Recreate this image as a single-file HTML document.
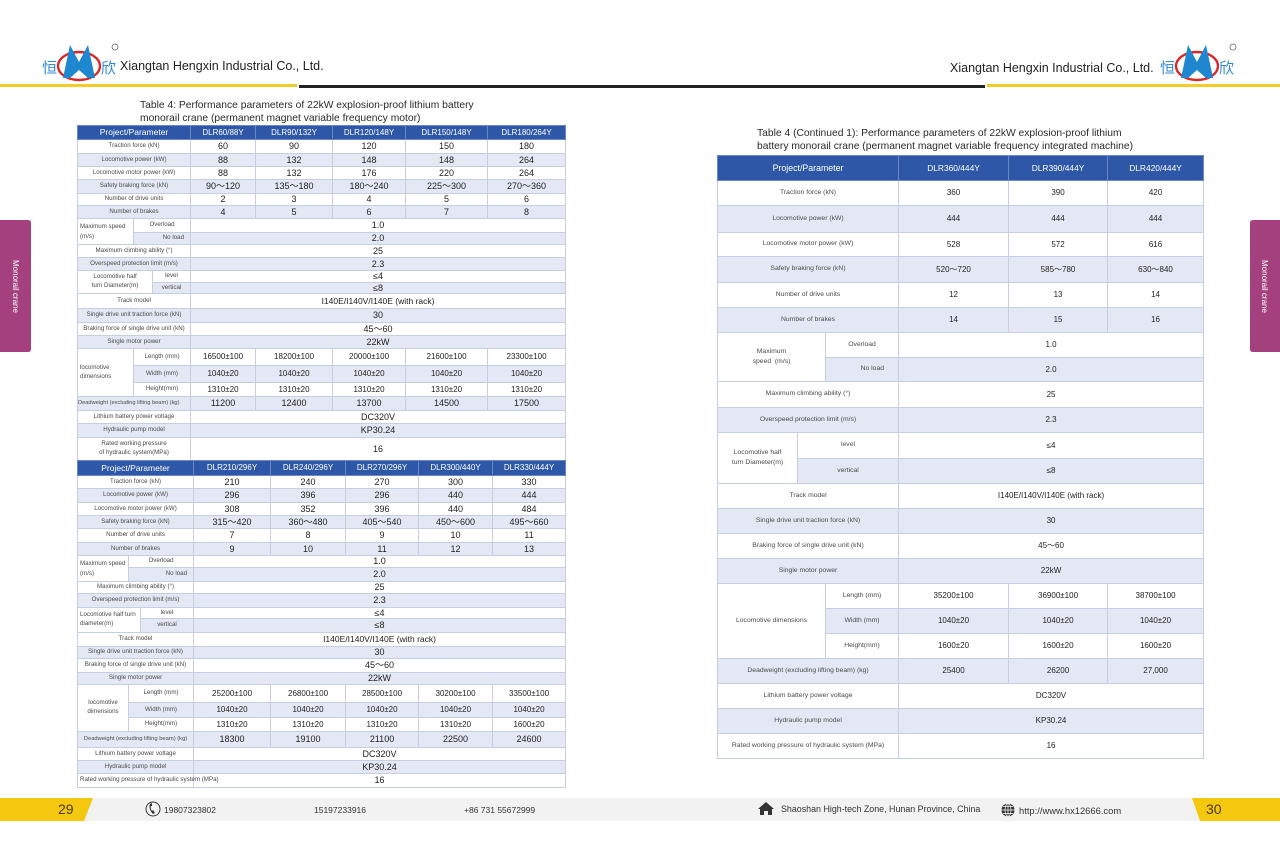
<!DOCTYPE html>
<html><head><meta charset="utf-8"><style>
*{box-sizing:border-box}
body{margin:0;width:1280px;height:868px;position:relative;background:#fff;overflow:hidden;font-family:"Liberation Sans","Noto Sans CJK SC",sans-serif;color:#222}
.abs{position:absolute;white-space:nowrap}
table{position:absolute;border-collapse:collapse;table-layout:fixed;border:1px solid #5d78b8}
td,th{border:1px solid #c6cee2;padding:0;text-align:center;vertical-align:middle;white-space:nowrap;line-height:1;overflow:visible;color:#222}
th{background:#2e58a7;color:#fff;font-weight:normal;border-color:#6a88c6}
tr.s td{background:#e3e8f4}
td.p{color:#4a4a4a}
.L td{font-size:9px}
.L td.p{font-size:6.2px}
.L td.d{font-size:8px}
.L th{font-size:8px;color:#fff}
.L th.hp{font-size:8.5px}
.R td{font-size:8px}
.R td.p{font-size:6.8px}
.R th{font-size:8.4px;color:#fff}
.R th.hp{font-size:8.8px}
td.sep{border-left:1px solid #8c9cc8}
.title{font-size:10.3px;line-height:13px;color:#2a2a2a}
.foot{font-size:8.6px;color:#333}
</style></head><body>

<svg class="abs" style="left:0;top:0" width="1280" height="868">
  <rect x="0" y="84" width="297" height="3" fill="#f2cd2a"/>
  <rect x="299" y="85" width="341" height="3" fill="#222"/>
  <rect x="640" y="85" width="345" height="3" fill="#222"/>
  <rect x="987" y="84" width="293" height="3" fill="#f2cd2a"/>
  <text x="42" y="73" font-size="15" fill="#2f8bd3" font-family="Noto Sans CJK SC">恒</text>
  <ellipse cx="79" cy="66" rx="21" ry="14" fill="none" stroke="#d42a2a" stroke-width="2.4"/>
  <path d="M63,78 L70,45 L79,62 L88,45 L95,78 L88,78 L79,70 L70,78 Z" fill="#1f86d0"/>
  <text x="101" y="73" font-size="15" fill="#2f8bd3" font-family="Noto Sans CJK SC">欣</text>
  <circle cx="115" cy="47" r="3" fill="none" stroke="#666" stroke-width="0.8"/>
  <text x="1160" y="73" font-size="15" fill="#2f8bd3" font-family="Noto Sans CJK SC">恒</text>
  <ellipse cx="1197" cy="66" rx="21" ry="14" fill="none" stroke="#d42a2a" stroke-width="2.4"/>
  <path d="M1181,78 L1188,45 L1197,62 L1206,45 L1213,78 L1206,78 L1197,70 L1188,78 Z" fill="#1f86d0"/>
  <text x="1219" y="73" font-size="15" fill="#2f8bd3" font-family="Noto Sans CJK SC">欣</text>
  <circle cx="1233" cy="47" r="3" fill="none" stroke="#666" stroke-width="0.8"/>
  <path d="M0,220 H28 Q31,220 31,223 V349 Q31,352 28,352 H0 Z" fill="#a4407e"/>
  <path d="M1280,220 H1253 Q1250,220 1250,223 V349 Q1250,352 1253,352 H1280 Z" fill="#a4407e"/>
  <rect x="0" y="798" width="1280" height="23" fill="#f2f2f2"/>
  <polygon points="0,798 93,798 84,821 0,821" fill="#f5c810"/>
  <polygon points="1192,798 1280,798 1280,821 1200,821" fill="#f5c810"/>
  <circle cx="153" cy="809" r="7" fill="none" stroke="#333" stroke-width="1"/>
  <path d="M150,804 q-2,5 3,10 l2,-1 l-2,-3 l-1,1 q-2,-3 -1,-5 l1,0 l0,-3 z" fill="#333"/>
  <polygon points="766,802 758,809 760,809 760,815 764,815 764,811 768,811 768,815 772,815 772,809 774,809" fill="#333"/>
  <circle cx="1008" cy="810" r="6.5" fill="#333"/>
  <path d="M1001.5,810 H1014.5 M1008,803.5 V816.5 M1003,806.5 H1013 M1003,813.5 H1013" stroke="#fff" stroke-width="0.7"/>
  <ellipse cx="1008" cy="810" rx="3" ry="6.5" fill="none" stroke="#fff" stroke-width="0.7"/>
</svg>

<div class="abs" style="left:120px;top:59px;font-size:12.5px;color:#222">Xiangtan Hengxin Industrial Co., Ltd.</div>
<div class="abs" style="left:950px;top:61px;font-size:12.5px;color:#222">Xiangtan Hengxin Industrial Co., Ltd.</div>

<div class="abs" style="left:5px;top:220px;width:21px;height:132px;writing-mode:vertical-rl;font-size:8px;color:#fff;text-align:center;line-height:21px">Monorail crane</div>
<div class="abs" style="left:1254px;top:220px;width:21px;height:132px;writing-mode:vertical-rl;font-size:8px;color:#fff;text-align:center;line-height:21px">Monorail crane</div>

<div class="abs title" style="left:140px;top:99px">Table 4: Performance parameters of 22kW explosion-proof lithium battery<br>monorail crane (permanent magnet variable frequency motor)</div>
<div class="abs title" style="left:757px;top:127px">Table 4 (Continued 1): Performance parameters of 22kW explosion-proof lithium<br>battery monorail crane (permanent magnet variable frequency integrated machine)</div>

<table class="L" style="left:77px;top:125px;width:488px">
<colgroup><col style="width:56px"><col style="width:19px"><col style="width:38px"><col style="width:65px"><col style="width:77px"><col style="width:73px"><col style="width:82px"><col style="width:78px"></colgroup>
<tr style="height:14px"><th colspan="3" class="hp">Project/Parameter</th><th>DLR60/88Y</th><th>DLR90/132Y</th><th>DLR120/148Y</th><th>DLR150/148Y</th><th>DLR180/264Y</th></tr>
<tr style="height:14px"><td colspan="3" class="p">Traction force (kN)</td><td class="sep">60</td><td>90</td><td>120</td><td>150</td><td>180</td></tr>
<tr class="s" style="height:13px"><td colspan="3" class="p">Locomotive power (kW)</td><td class="sep">88</td><td>132</td><td>148</td><td>148</td><td>264</td></tr>
<tr style="height:13px"><td colspan="3" class="p">Locomotive motor power (kW)</td><td class="sep">88</td><td>132</td><td>176</td><td>220</td><td>264</td></tr>
<tr class="s" style="height:14px"><td colspan="3" class="p">Safety braking force (kN)</td><td class="sep">90～120</td><td>135～180</td><td>180～240</td><td>225～300</td><td>270～360</td></tr>
<tr style="height:12px"><td colspan="3" class="p">Number of drive units</td><td class="sep">2</td><td>3</td><td>4</td><td>5</td><td>6</td></tr>
<tr class="s" style="height:13px"><td colspan="3" class="p">Number of brakes</td><td class="sep">4</td><td>5</td><td>6</td><td>7</td><td>8</td></tr>
<tr style="height:14px"><td rowspan="2" class="p" style="text-align:left;padding-left:2px;line-height:1.5;background:#fff">Maximum speed<br>(m/s)</td><td colspan="2" class="p">Overload</td><td colspan="5" class="sep">1.0</td></tr>
<tr class="s" style="height:12px"><td colspan="2" class="p" style="text-align:right;padding-right:6px">No load</td><td colspan="5" class="sep">2.0</td></tr>
<tr style="height:13px"><td colspan="3" class="p">Maximum climbing ability (°)</td><td colspan="5" class="sep">25</td></tr>
<tr class="s" style="height:13px"><td colspan="3" class="p">Overspeed protection limit (m/s)</td><td colspan="5" class="sep">2.3</td></tr>
<tr style="height:12px"><td rowspan="2" colspan="2" class="p" style="line-height:1.4;background:#fff">Locomotive half<br>turn Diameter(m)</td><td class="p">level</td><td colspan="5" class="sep">≤4</td></tr>
<tr class="s" style="height:11px"><td class="p">vertical</td><td colspan="5" class="sep">≤8</td></tr>
<tr style="height:15px"><td colspan="3" class="p">Track model</td><td colspan="5" class="sep" style="font-size:8.5px">I140E/I140V/I140E (with rack)</td></tr>
<tr class="s" style="height:14px"><td colspan="3" class="p">Single drive unit traction force (kN)</td><td colspan="5" class="sep">30</td></tr>
<tr style="height:13px"><td colspan="3" class="p">Braking force of single drive unit (kN)</td><td colspan="5" class="sep">45～60</td></tr>
<tr class="s" style="height:13px"><td colspan="3" class="p">Single motor power</td><td colspan="5" class="sep">22kW</td></tr>
<tr style="height:17px"><td rowspan="3" class="p" style="text-align:left;padding-left:2px;line-height:1.4;background:#fff">locomotive<br>dimensions</td><td colspan="2" class="p">Length (mm)</td><td class="d sep">16500±100</td><td class="d">18200±100</td><td class="d">20000±100</td><td class="d">21600±100</td><td class="d">23300±100</td></tr>
<tr class="s" style="height:17px"><td colspan="2" class="p">Width (mm)</td><td class="d sep">1040±20</td><td class="d">1040±20</td><td class="d">1040±20</td><td class="d">1040±20</td><td class="d">1040±20</td></tr>
<tr style="height:14px"><td colspan="2" class="p">Height(mm)</td><td class="d sep">1310±20</td><td class="d">1310±20</td><td class="d">1310±20</td><td class="d">1310±20</td><td class="d">1310±20</td></tr>
<tr class="s" style="height:14px"><td colspan="3" class="p" style="font-size:5.7px;text-align:left">Deadweight (excluding lifting beam) (kg)</td><td class="sep">11200</td><td>12400</td><td>13700</td><td>14500</td><td>17500</td></tr>
<tr style="height:13px"><td colspan="3" class="p">Lithium battery power voltage</td><td colspan="5" class="sep">DC320V</td></tr>
<tr class="s" style="height:14px"><td colspan="3" class="p">Hydraulic pump model</td><td colspan="5" class="sep">KP30.24</td></tr>
<tr style="height:23px"><td colspan="3" class="p" style="line-height:1.4">Rated working pressure<br>of hydraulic system(MPa)</td><td colspan="5" class="sep">16</td></tr>
</table>

<table class="L" style="left:77px;top:460px;width:488px">
<colgroup><col style="width:51px"><col style="width:12px"><col style="width:53px"><col style="width:77px"><col style="width:75px"><col style="width:73px"><col style="width:74px"><col style="width:73px"></colgroup>
<tr style="height:15px"><th colspan="3" class="hp">Project/Parameter</th><th>DLR210/296Y</th><th>DLR240/296Y</th><th>DLR270/296Y</th><th>DLR300/440Y</th><th>DLR330/444Y</th></tr>
<tr style="height:13px"><td colspan="3" class="p">Traction force (kN)</td><td class="sep">210</td><td>240</td><td>270</td><td>300</td><td>330</td></tr>
<tr class="s" style="height:14px"><td colspan="3" class="p">Locomotive power (kW)</td><td class="sep">296</td><td>396</td><td>296</td><td>440</td><td>444</td></tr>
<tr style="height:13px"><td colspan="3" class="p">Locomotive motor power (kW)</td><td class="sep">308</td><td>352</td><td>396</td><td>440</td><td>484</td></tr>
<tr class="s" style="height:13px"><td colspan="3" class="p">Safety braking force (kN)</td><td class="sep">315～420</td><td>360～480</td><td>405～540</td><td>450～600</td><td>495～660</td></tr>
<tr style="height:14px"><td colspan="3" class="p">Number of drive units</td><td class="sep">7</td><td>8</td><td>9</td><td>10</td><td>11</td></tr>
<tr class="s" style="height:13px"><td colspan="3" class="p">Number of brakes</td><td class="sep">9</td><td>10</td><td>11</td><td>12</td><td>13</td></tr>
<tr style="height:12px"><td rowspan="2" class="p" style="text-align:left;padding-left:2px;line-height:1.5;background:#fff">Maximum speed<br>(m/s)</td><td colspan="2" class="p">Overload</td><td colspan="5" class="sep">1.0</td></tr>
<tr class="s" style="height:14px"><td colspan="2" class="p" style="text-align:right;padding-right:6px">No load</td><td colspan="5" class="sep">2.0</td></tr>
<tr style="height:12px"><td colspan="3" class="p">Maximum climbing ability (°)</td><td colspan="5" class="sep">25</td></tr>
<tr class="s" style="height:14px"><td colspan="3" class="p">Overspeed protection limit (m/s)</td><td colspan="5" class="sep">2.3</td></tr>
<tr style="height:11px"><td rowspan="2" colspan="2" class="p" style="text-align:left;padding-left:2px;line-height:1.4;background:#fff">Locomotive half turn<br>diameter(m)</td><td class="p">level</td><td colspan="5" class="sep">≤4</td></tr>
<tr class="s" style="height:14px"><td class="p">vertical</td><td colspan="5" class="sep">≤8</td></tr>
<tr style="height:14px"><td colspan="3" class="p">Track model</td><td colspan="5" class="sep" style="font-size:8.5px">I140E/I140V/I140E (with rack)</td></tr>
<tr class="s" style="height:12px"><td colspan="3" class="p">Single drive unit traction force (kN)</td><td colspan="5" class="sep">30</td></tr>
<tr style="height:14px"><td colspan="3" class="p">Braking force of single drive unit (kN)</td><td colspan="5" class="sep">45～60</td></tr>
<tr class="s" style="height:12px"><td colspan="3" class="p">Single motor power</td><td colspan="5" class="sep">22kW</td></tr>
<tr style="height:18px"><td rowspan="3" class="p" style="line-height:1.4;background:#fff">locomotive<br>dimensions</td><td colspan="2" class="p">Length (mm)</td><td class="d sep">25200±100</td><td class="d">26800±100</td><td class="d">28500±100</td><td class="d">30200±100</td><td class="d">33500±100</td></tr>
<tr class="s" style="height:15px"><td colspan="2" class="p">Width (mm)</td><td class="d sep">1040±20</td><td class="d">1040±20</td><td class="d">1040±20</td><td class="d">1040±20</td><td class="d">1040±20</td></tr>
<tr style="height:14px"><td colspan="2" class="p">Height(mm)</td><td class="d sep">1310±20</td><td class="d">1310±20</td><td class="d">1310±20</td><td class="d">1310±20</td><td class="d">1600±20</td></tr>
<tr class="s" style="height:16px"><td colspan="3" class="p" style="font-size:5.8px">Deadweight (excluding lifting beam) (kg)</td><td class="sep">18300</td><td>19100</td><td>21100</td><td>22500</td><td>24600</td></tr>
<tr style="height:13px"><td colspan="3" class="p">Lithium battery power voltage</td><td colspan="5" class="sep">DC320V</td></tr>
<tr class="s" style="height:13px"><td colspan="3" class="p">Hydraulic pump model</td><td colspan="5" class="sep">KP30.24</td></tr>
<tr style="height:14px"><td colspan="3" class="p" style="text-align:left;padding-left:2px">Rated working pressure of hydraulic system (MPa)</td><td colspan="5" class="sep">16</td></tr>
</table>

<table class="R" style="left:717px;top:155px;width:486px">
<colgroup><col style="width:80px"><col style="width:28px"><col style="width:73px"><col style="width:110px"><col style="width:99px"><col style="width:96px"></colgroup>
<tr style="height:25px"><th colspan="3" class="hp">Project/Parameter</th><th>DLR360/444Y</th><th>DLR390/444Y</th><th>DLR420/444Y</th></tr>
<tr style="height:25px"><td colspan="3" class="p">Traction force (kN)</td><td class="sep">360</td><td>390</td><td>420</td></tr>
<tr class="s" style="height:27px"><td colspan="3" class="p">Locomotive power (kW)</td><td class="sep">444</td><td>444</td><td>444</td></tr>
<tr style="height:24px"><td colspan="3" class="p">Locomotive motor power (kW)</td><td class="sep">528</td><td>572</td><td>616</td></tr>
<tr class="s" style="height:26px"><td colspan="3" class="p">Safety braking force (kN)</td><td class="sep">520～720</td><td>585～780</td><td>630～840</td></tr>
<tr style="height:25px"><td colspan="3" class="p">Number of drive units</td><td class="sep">12</td><td>13</td><td>14</td></tr>
<tr class="s" style="height:25px"><td colspan="3" class="p">Number of brakes</td><td class="sep">14</td><td>15</td><td>16</td></tr>
<tr style="height:25px"><td rowspan="2" colspan="2" class="p" style="line-height:1.5;background:#fff">Maximum<br>speed &nbsp;(m/s)</td><td class="p">Overload</td><td colspan="3" class="sep">1.0</td></tr>
<tr class="s" style="height:24px"><td class="p" style="text-align:right;padding-right:14px">No load</td><td colspan="3" class="sep">2.0</td></tr>
<tr style="height:26px"><td colspan="3" class="p">Maximum climbing ability (°)</td><td colspan="3" class="sep">25</td></tr>
<tr class="s" style="height:25px"><td colspan="3" class="p">Overspeed protection limit (m/s)</td><td colspan="3" class="sep">2.3</td></tr>
<tr style="height:26px"><td rowspan="2" class="p" style="line-height:1.5;background:#fff">Locomotive half<br>turn Diameter(m)</td><td colspan="2" class="p">level</td><td colspan="3" class="sep">≤4</td></tr>
<tr class="s" style="height:25px"><td colspan="2" class="p">vertical</td><td colspan="3" class="sep">≤8</td></tr>
<tr style="height:25px"><td colspan="3" class="p">Track model</td><td colspan="3" class="sep">I140E/I140V/I140E (with rack)</td></tr>
<tr class="s" style="height:25px"><td colspan="3" class="p">Single drive unit traction force (kN)</td><td colspan="3" class="sep">30</td></tr>
<tr style="height:25px"><td colspan="3" class="p">Braking force of single drive unit (kN)</td><td colspan="3" class="sep">45～60</td></tr>
<tr class="s" style="height:25px"><td colspan="3" class="p">Single motor power</td><td colspan="3" class="sep">22kW</td></tr>
<tr style="height:25px"><td rowspan="3" colspan="2" class="p" style="background:#fff">Locomotive dimensions</td><td class="p">Length (mm)</td><td class="sep">35200±100</td><td>36900±100</td><td>38700±100</td></tr>
<tr class="s" style="height:25px"><td class="p">Width (mm)</td><td class="sep">1040±20</td><td>1040±20</td><td>1040±20</td></tr>
<tr style="height:25px"><td class="p">Height(mm)</td><td class="sep">1600±20</td><td>1600±20</td><td>1600±20</td></tr>
<tr class="s" style="height:25px"><td colspan="3" class="p">Deadweight (excluding lifting beam) (kg)</td><td class="sep">25400</td><td>26200</td><td>27,000</td></tr>
<tr style="height:25px"><td colspan="3" class="p">Lithium battery power voltage</td><td colspan="3" class="sep">DC320V</td></tr>
<tr class="s" style="height:25px"><td colspan="3" class="p">Hydraulic pump model</td><td colspan="3" class="sep">KP30.24</td></tr>
<tr style="height:25px"><td colspan="3" class="p">Rated working pressure of hydraulic system (MPa)</td><td colspan="3" class="sep">16</td></tr>
</table>

<div class="abs" style="left:58px;top:801px;font-size:14px;color:#4a3a05">29</div>
<div class="abs foot" style="left:164px;top:805px;font-size:8.5px">19807323802</div>
<div class="abs foot" style="left:314px;top:805px;font-size:8.5px">15197233916</div>
<div class="abs foot" style="left:464px;top:805px;font-size:8.5px">+86 731 55672999</div>
<div class="abs foot" style="left:781px;top:804px;font-size:8.9px">Shaoshan High-tech Zone, Hunan Province, China</div>
<div class="abs foot" style="left:1019px;top:805px;font-size:9.4px">http://www.hx12666.com</div>
<div class="abs" style="left:1206px;top:801px;font-size:14px;color:#4a3a05">30</div>

</body></html>
